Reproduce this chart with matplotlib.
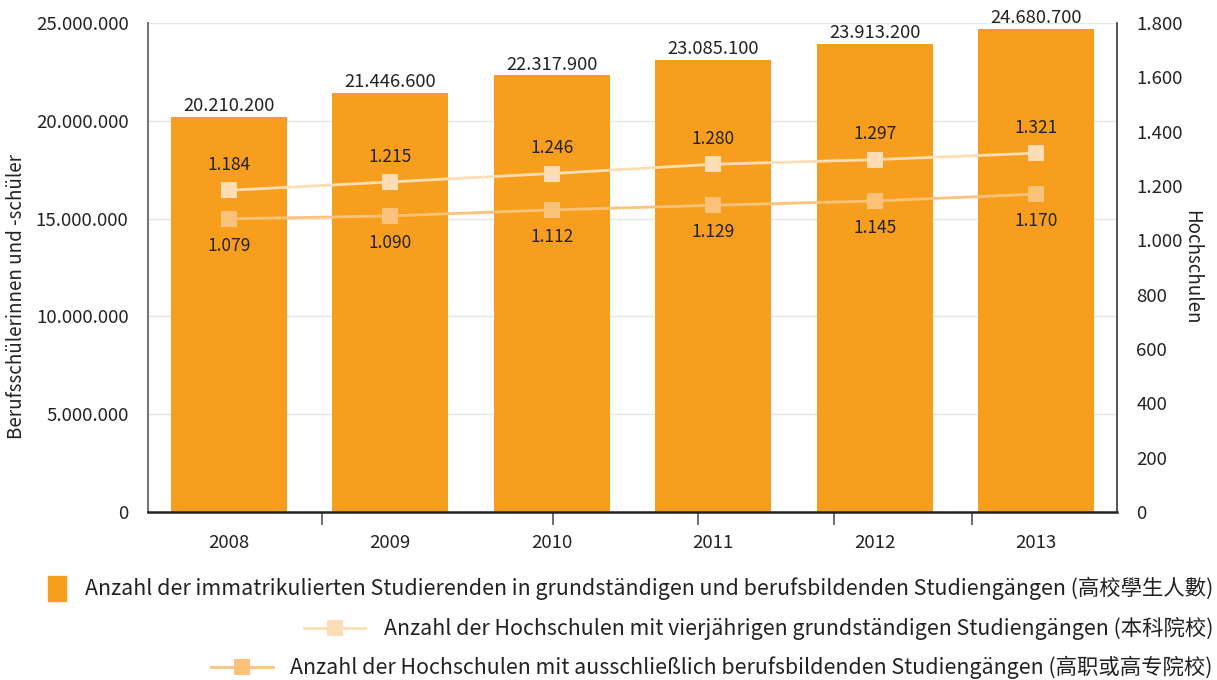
import matplotlib
matplotlib.use('Agg')
import matplotlib.pyplot as plt
from matplotlib.patches import Rectangle
from matplotlib.lines import Line2D
from matplotlib.ticker import FuncFormatter

plt.rcParams['font.family'] = ['Noto Sans CJK TC', 'DejaVu Sans']

years = ['2008', '2009', '2010', '2011', '2012', '2013']
students = [20210200, 21446600, 22317900, 23085100, 23913200, 24680700]
uni_4yr = [1184, 1215, 1246, 1280, 1297, 1321]
uni_voc = [1079, 1090, 1112, 1129, 1145, 1170]
# odd tick marks on the x axis as they appear in the original
xticks_marks = [0.577, 2.008, 2.906, 3.748, 4.602]

bar_color = '#F79E1F'
light_color = '#FEDDB5'
mid_color = '#FBC27A'
text_color = '#222222'

def dots(v, pos=None):
    return f'{int(v):,}'.replace(',', '.')

W, H = 1217, 680
fig = plt.figure(figsize=(W / 100, H / 100), dpi=100)
ax = fig.add_axes([148/W, 1 - 512/H, 969/W, 489/H])
x = list(range(len(years)))

ax.bar(x, students, width=0.72, color=bar_color, zorder=2)
ax.set_ylim(0, 25000000)
ax.set_xlim(-0.5, 5.5)
ax.set_yticks(range(0, 25000001, 5000000))
ax.yaxis.set_major_formatter(FuncFormatter(dots))
ax.grid(axis='y', color='#e6e6e6', linewidth=1, zorder=0)
ax.set_axisbelow(True)
ax.set_xticks([])
ax.set_xticks(xticks_marks, minor=True)
ax.tick_params(axis='x', which='minor', length=9, width=1.2, color='#555555')
ax.tick_params(axis='y', length=0, labelsize=13.4, labelcolor=text_color, pad=14)
for i, y in enumerate(years):
    ax.text(i, -0.045, y, transform=ax.get_xaxis_transform(), ha='center', va='top',
            fontsize=13.4, color=text_color)
for i, v in enumerate(students):
    ax.text(i, v + 100000, dots(v), ha='center', va='bottom', fontsize=13.2, color=text_color)

for s in ['top', 'right']:
    ax.spines[s].set_visible(False)
ax.spines['left'].set_color('#777777')
ax.spines['left'].set_linewidth(1.5)
ax.spines['bottom'].set_color('#222222')
ax.spines['bottom'].set_linewidth(1.8)
ax.set_ylabel('Berufsschülerinnen und -schüler', fontsize=13.5, color=text_color, labelpad=3)
ax.yaxis.set_label_coords(-0.125, 0.44)

ax2 = ax.twinx()
ax2.set_ylim(0, 1800)
ax2.set_yticks(range(0, 1801, 200))
ax2.yaxis.set_major_formatter(FuncFormatter(dots))
ax2.tick_params(axis='y', length=0, labelsize=13.4, labelcolor=text_color, pad=14)
for s in ['top', 'left', 'bottom']:
    ax2.spines[s].set_visible(False)
ax2.spines['right'].set_color('#333333')
ax2.spines['right'].set_linewidth(1.2)
ax2.set_ylabel('Hochschulen', rotation=-90, fontsize=13.5, color=text_color, labelpad=14)

ax2.plot(x, uni_4yr, color=light_color, linewidth=2, marker='s', markersize=11.5,
         markeredgewidth=0, zorder=3)
ax2.plot(x, uni_voc, color=mid_color, linewidth=2, marker='s', markersize=11.5,
         markeredgewidth=0, zorder=3)
for i, v in enumerate(uni_4yr):
    ax2.text(i, v + 60, dots(v), ha='center', va='bottom', fontsize=12.5, color=text_color)
for i, v in enumerate(uni_voc):
    ax2.text(i, v - 65, dots(v), ha='center', va='top', fontsize=12.5, color=text_color)

# legend, rows right-aligned like the original
labels = [
    'Anzahl der immatrikulierten Studierenden in grundständigen und berufsbildenden Studiengängen (高校學生人數)',
    'Anzahl der Hochschulen mit vierjährigen grundständigen Studiengängen (本科院校)',
    'Anzahl der Hochschulen mit ausschließlich berufsbildenden Studiengängen (高职或高专院校)',
]
row_y = [588, 628, 667]
renderer = fig.canvas.get_renderer()
for k, (lab, ry) in enumerate(zip(labels, row_y)):
    t = fig.text(1213 / W, 1 - ry / H, lab, ha='right', va='center', fontsize=15.4, color=text_color)
    x0 = t.get_window_extent(renderer).x0
    if k == 0:
        fig.add_artist(Rectangle(((x0 - 37) / W, 1 - (ry + 13) / H), 18 / W, 25 / H,
                                 color=bar_color, transform=fig.transFigure))
    else:
        c = light_color if k == 1 else mid_color
        xa, xb = x0 - 80, x0 - 18
        fig.add_artist(Line2D([xa / W, xb / W], [1 - ry / H, 1 - ry / H], color=c, linewidth=2,
                              transform=fig.transFigure))
        fig.add_artist(Line2D([(xa + xb) / 2 / W], [1 - ry / H], color=c, marker='s',
                              markersize=11.5, markeredgewidth=0, transform=fig.transFigure))

fig.savefig('out.png', dpi=100)
